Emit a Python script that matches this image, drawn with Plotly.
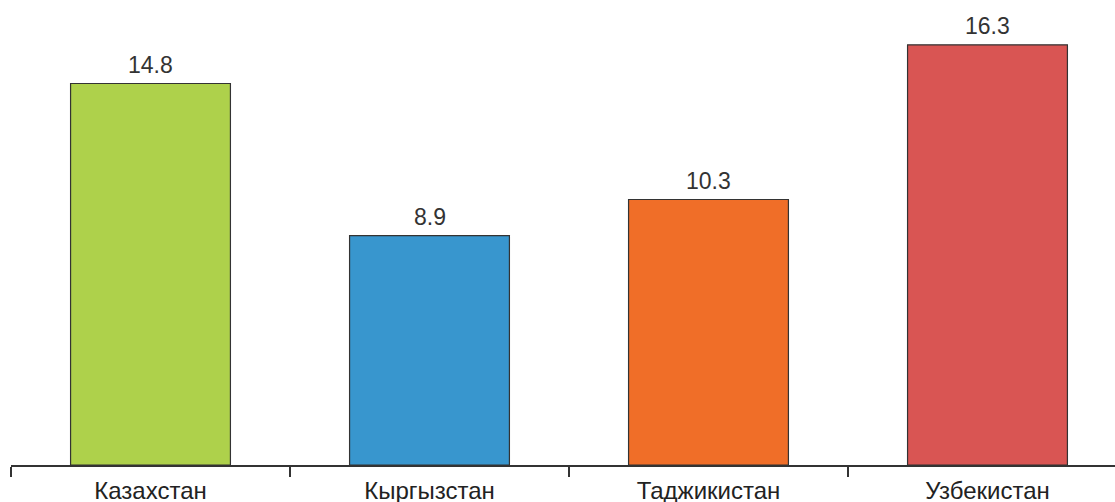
import plotly.graph_objects as go

categories = ["Казахстан", "Кыргызстан", "Таджикистан", "Узбекистан"]
values = [14.8, 8.9, 10.3, 16.3]
colors = ["#AED14B", "#3896CE", "#F06E28", "#D95553"]

FONT = "Liberation Sans, Arial, sans-serif"

fig = go.Figure(go.Bar(
    x=categories, y=values,
    marker=dict(color=colors, line=dict(color="#333333", width=1.2)),
    width=0.573,
    cliponaxis=False,
))

for c, v in zip(categories, values):
    fig.add_annotation(
        x=c, y=v, text=f"{v:.1f}", showarrow=False,
        yanchor="bottom", yshift=4,
        font=dict(family=FONT, size=23, color="#333333"),
    )

fig.update_layout(
    width=1115, height=502,
    margin=dict(l=11, r=0, t=0, b=37, autoexpand=False),
    paper_bgcolor="white", plot_bgcolor="white",
    showlegend=False,
    font=dict(family=FONT, size=24, color="#222222"),
    xaxis=dict(
        type="category",
        range=[-0.5, 3.457],
        automargin=False,
        showline=True, linecolor="#333333", linewidth=1.5,
        ticks="outside", tickson="boundaries", ticklen=10, tickcolor="#333333", tickwidth=1.5,
        tickfont=dict(family=FONT, size=24, color="#222222"),
        ticklabelstandoff=3,
        showgrid=False,
    ),
    yaxis=dict(
        range=[0, 18.04],
        visible=False,
        automargin=False,
        showgrid=False,
    ),
)

fig.write_html("out.html")
